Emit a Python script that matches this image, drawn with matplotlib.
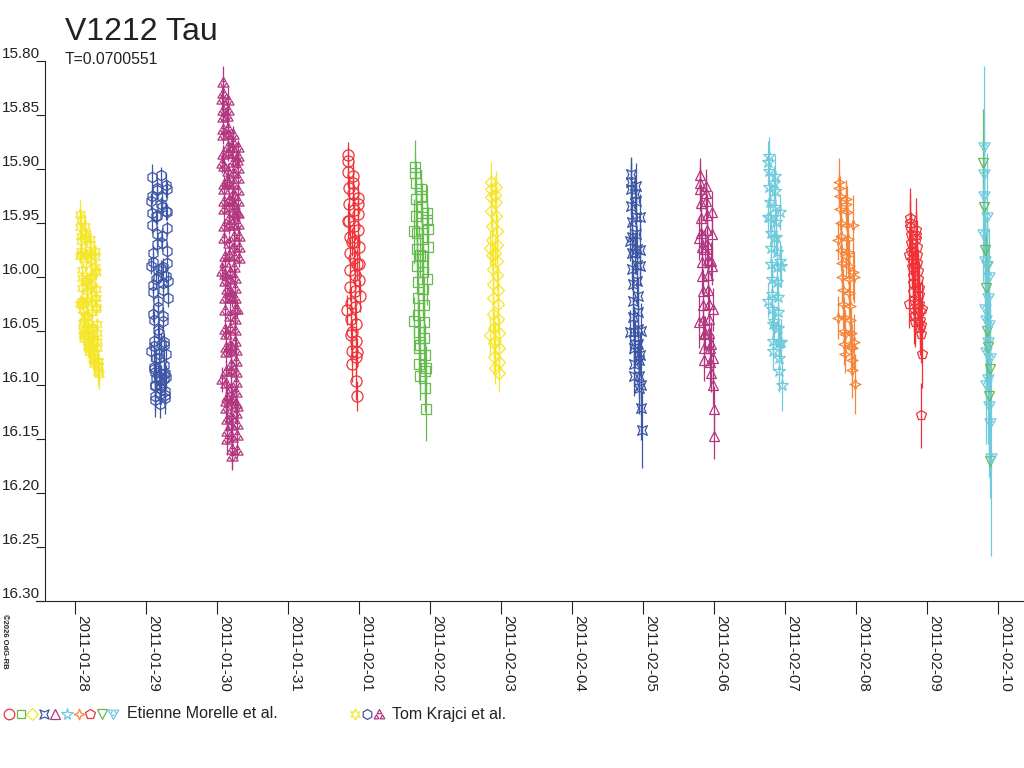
import numpy as np
import matplotlib
matplotlib.use("Agg")
import matplotlib.pyplot as plt
import matplotlib.dates as mdates
from matplotlib.path import Path
from datetime import datetime

plt.rcParams['font.family'] = ['Liberation Sans', 'DejaVu Sans']

# days after 2011-01-28 0h UT, V magnitudes and errors, one set per night

# Tom Krajci et al.
krajci_0128_day = [0.060, 0.063, 0.066, 0.069, 0.072, 0.075, 0.078, 0.081, 0.084, 0.087,
                   0.090, 0.093, 0.096, 0.099, 0.102, 0.105, 0.108, 0.111, 0.114, 0.117,
                   0.120, 0.123, 0.126, 0.129, 0.132, 0.135, 0.138, 0.141, 0.144, 0.147,
                   0.150, 0.153, 0.156, 0.159, 0.162, 0.165, 0.168, 0.171, 0.174, 0.177,
                   0.180, 0.183, 0.186, 0.189, 0.192, 0.195, 0.198, 0.201, 0.204, 0.207,
                   0.210, 0.213, 0.216, 0.219, 0.222, 0.225, 0.228, 0.231, 0.234, 0.237,
                   0.240, 0.243, 0.246, 0.249, 0.252, 0.255, 0.258, 0.261, 0.264, 0.267,
                   0.270, 0.273, 0.276, 0.279, 0.282, 0.285, 0.288, 0.291, 0.294, 0.297,
                   0.300, 0.303, 0.306, 0.309, 0.312, 0.315, 0.318, 0.321, 0.324, 0.327]
krajci_0128_mag = [16.025, 15.981, 15.954, 15.942, 15.947, 15.962, 15.967, 15.976, 15.979, 15.994,
                   16.001, 16.010, 16.022, 16.024, 16.031, 16.031, 16.043, 16.049, 16.053, 16.041,
                   16.055, 16.058, 16.051, 16.037, 16.004, 15.965, 15.953, 15.959, 15.962, 15.979,
                   15.988, 16.003, 16.005, 16.013, 16.021, 16.022, 16.036, 16.043, 16.049, 16.055,
                   16.053, 16.065, 16.059, 16.067, 16.070, 16.063, 16.048, 16.001, 15.977, 15.965,
                   15.970, 15.980, 15.984, 15.999, 16.008, 16.011, 16.024, 16.033, 16.046, 16.047,
                   16.054, 16.061, 16.066, 16.066, 16.076, 16.070, 16.078, 16.081, 16.074, 16.060,
                   16.020, 15.995, 15.976, 15.982, 15.991, 15.996, 16.011, 16.020, 16.028, 16.030,
                   16.044, 16.052, 16.059, 16.066, 16.078, 16.078, 16.083, 16.088, 16.082, 16.090]
krajci_0128_err = [0.008, 0.007, 0.010, 0.013, 0.009, 0.006, 0.006, 0.007, 0.006, 0.006,
                   0.006, 0.007, 0.006, 0.006, 0.007, 0.006, 0.008, 0.007, 0.009, 0.006,
                   0.008, 0.010, 0.007, 0.006, 0.006, 0.008, 0.011, 0.007, 0.006, 0.006,
                   0.007, 0.006, 0.006, 0.006, 0.007, 0.006, 0.006, 0.007, 0.006, 0.008,
                   0.006, 0.009, 0.007, 0.008, 0.010, 0.007, 0.006, 0.006, 0.007, 0.008,
                   0.006, 0.006, 0.007, 0.006, 0.006, 0.006, 0.007, 0.006, 0.006, 0.007,
                   0.006, 0.008, 0.006, 0.007, 0.009, 0.006, 0.008, 0.010, 0.007, 0.006,
                   0.006, 0.007, 0.006, 0.006, 0.006, 0.007, 0.006, 0.006, 0.007, 0.006,
                   0.006, 0.007, 0.008, 0.006, 0.009, 0.008, 0.010, 0.012, 0.009, 0.014]

krajci_0129_day = [1.065, 1.068, 1.071, 1.074, 1.077, 1.080, 1.083, 1.086, 1.089, 1.092,
                   1.095, 1.098, 1.101, 1.104, 1.107, 1.110, 1.113, 1.116, 1.119, 1.122,
                   1.125, 1.128, 1.131, 1.134, 1.137, 1.140, 1.143, 1.146, 1.149, 1.152,
                   1.155, 1.158, 1.161, 1.164, 1.167, 1.170, 1.173, 1.176, 1.179, 1.182,
                   1.185, 1.188, 1.191, 1.194, 1.197, 1.200, 1.203, 1.206, 1.209, 1.212,
                   1.215, 1.218, 1.221, 1.224, 1.227, 1.230, 1.233, 1.236, 1.239, 1.242,
                   1.245, 1.248, 1.251, 1.254, 1.257, 1.260, 1.263, 1.266, 1.269, 1.272,
                   1.275, 1.278, 1.281, 1.284, 1.287, 1.290, 1.293, 1.296, 1.299, 1.302]
krajci_0129_mag = [16.069, 15.990, 15.930, 15.908, 15.925, 15.941, 15.952, 15.978, 15.986, 16.008,
                   16.014, 16.034, 16.040, 16.059, 16.064, 16.083, 16.085, 16.100, 16.101, 16.088,
                   16.110, 16.114, 16.094, 16.075, 16.002, 15.944, 15.918, 15.920, 15.944, 15.960,
                   15.970, 15.994, 16.000, 16.022, 16.028, 16.049, 16.052, 16.071, 16.075, 16.092,
                   16.094, 16.108, 16.096, 16.103, 16.118, 16.100, 16.062, 15.992, 15.933, 15.906,
                   15.926, 15.935, 15.962, 15.969, 15.991, 16.006, 16.012, 16.036, 16.041, 16.060,
                   16.063, 16.082, 16.090, 16.095, 16.106, 16.089, 16.109, 16.112, 16.093, 16.071,
                   15.999, 15.939, 15.915, 15.919, 15.940, 15.955, 15.976, 15.987, 16.004, 16.020]
krajci_0129_err = [0.009, 0.007, 0.008, 0.012, 0.008, 0.007, 0.007, 0.007, 0.008, 0.007,
                   0.008, 0.008, 0.008, 0.009, 0.009, 0.010, 0.010, 0.011, 0.013, 0.010,
                   0.014, 0.016, 0.011, 0.009, 0.008, 0.007, 0.010, 0.008, 0.007, 0.007,
                   0.008, 0.007, 0.007, 0.008, 0.008, 0.009, 0.008, 0.009, 0.010, 0.010,
                   0.012, 0.011, 0.015, 0.010, 0.013, 0.018, 0.010, 0.008, 0.007, 0.008,
                   0.013, 0.009, 0.007, 0.007, 0.008, 0.007, 0.008, 0.008, 0.009, 0.008,
                   0.009, 0.010, 0.011, 0.010, 0.012, 0.010, 0.013, 0.015, 0.011, 0.009,
                   0.007, 0.008, 0.011, 0.008, 0.007, 0.007, 0.008, 0.007, 0.008, 0.008]

krajci_0130_day = [2.065, 2.067, 2.069, 2.071, 2.073, 2.075, 2.077, 2.079, 2.081, 2.083,
                   2.085, 2.087, 2.089, 2.091, 2.093, 2.095, 2.097, 2.099, 2.101, 2.103,
                   2.105, 2.107, 2.109, 2.111, 2.113, 2.115, 2.117, 2.119, 2.121, 2.123,
                   2.125, 2.127, 2.129, 2.131, 2.133, 2.135, 2.137, 2.139, 2.141, 2.143,
                   2.145, 2.147, 2.149, 2.151, 2.153, 2.155, 2.157, 2.159, 2.161, 2.163,
                   2.165, 2.167, 2.169, 2.171, 2.173, 2.175, 2.177, 2.179, 2.181, 2.183,
                   2.185, 2.187, 2.189, 2.191, 2.193, 2.195, 2.197, 2.199, 2.201, 2.203,
                   2.205, 2.207, 2.209, 2.211, 2.213, 2.215, 2.217, 2.219, 2.221, 2.223,
                   2.225, 2.227, 2.229, 2.231, 2.233, 2.235, 2.237, 2.239, 2.241, 2.243,
                   2.245, 2.247, 2.249, 2.251, 2.253, 2.255, 2.257, 2.259, 2.261, 2.263,
                   2.265, 2.267, 2.269, 2.271, 2.273, 2.275, 2.277, 2.279, 2.281, 2.283,
                   2.285, 2.287, 2.289, 2.291, 2.293, 2.295, 2.297, 2.299, 2.301, 2.303]
krajci_0130_mag = [16.095, 15.995, 15.895, 15.835, 15.820, 15.830, 15.846, 15.852, 15.863, 15.869,
                   15.886, 15.897, 15.914, 15.919, 15.930, 15.937, 15.953, 15.964, 15.981, 15.986,
                   15.997, 16.004, 16.020, 16.031, 16.048, 16.053, 16.065, 16.070, 16.087, 16.098,
                   16.115, 16.121, 16.132, 16.143, 16.150, 16.111, 16.011, 15.911, 15.851, 15.836,
                   15.846, 15.862, 15.868, 15.879, 15.885, 15.902, 15.913, 15.929, 15.935, 15.946,
                   15.952, 15.969, 15.980, 15.996, 16.002, 16.013, 16.019, 16.036, 16.047, 16.063,
                   16.069, 16.081, 16.087, 16.103, 16.114, 16.130, 16.137, 16.148, 16.159, 16.166,
                   16.112, 16.020, 15.930, 15.880, 15.868, 15.875, 15.885, 15.894, 15.904, 15.914,
                   15.923, 15.933, 15.943, 15.952, 15.962, 15.972, 15.981, 15.991, 16.001, 16.010,
                   16.020, 16.030, 16.039, 16.049, 16.059, 16.068, 16.078, 16.088, 16.097, 16.107,
                   16.117, 16.126, 16.136, 16.146, 16.160, 16.120, 16.030, 15.940, 15.892, 15.880,
                   15.888, 15.899, 15.909, 15.920, 15.930, 15.941, 15.951, 15.962, 15.972, 15.983]
krajci_0130_err = [0.012, 0.009, 0.009, 0.012, 0.015, 0.011, 0.009, 0.008, 0.008, 0.008,
                   0.008, 0.007, 0.007, 0.008, 0.007, 0.008, 0.008, 0.007, 0.008, 0.008,
                   0.008, 0.009, 0.008, 0.008, 0.009, 0.009, 0.009, 0.010, 0.010, 0.010,
                   0.011, 0.012, 0.012, 0.013, 0.015, 0.012, 0.009, 0.008, 0.010, 0.012,
                   0.010, 0.009, 0.008, 0.008, 0.008, 0.007, 0.007, 0.008, 0.007, 0.008,
                   0.008, 0.008, 0.007, 0.008, 0.008, 0.009, 0.008, 0.009, 0.009, 0.010,
                   0.010, 0.011, 0.011, 0.012, 0.013, 0.014, 0.016, 0.018, 0.020, 0.012,
                   0.009, 0.008, 0.009, 0.010, 0.008, 0.008, 0.008, 0.007, 0.007, 0.008,
                   0.008, 0.007, 0.008, 0.008, 0.008, 0.009, 0.008, 0.009, 0.009, 0.010,
                   0.009, 0.010, 0.011, 0.011, 0.012, 0.013, 0.014, 0.015, 0.016, 0.012,
                   0.010, 0.009, 0.009, 0.008, 0.008, 0.008, 0.008, 0.007, 0.008, 0.007,
                   0.008, 0.008, 0.008, 0.007, 0.008, 0.008, 0.008, 0.009, 0.008, 0.008]

# Etienne Morelle et al.
morelle_0201_day = [3.830, 3.834, 3.838, 3.842, 3.846, 3.850, 3.854, 3.858, 3.862, 3.866, 3.870,
                    3.874, 3.878, 3.882, 3.886, 3.890, 3.894, 3.898, 3.902, 3.906, 3.910, 3.914,
                    3.918, 3.922, 3.926, 3.930, 3.934, 3.938, 3.942, 3.946, 3.950, 3.954, 3.958,
                    3.962, 3.966, 3.970, 3.974, 3.978, 3.982, 3.986, 3.990, 3.994, 3.998, 4.002]
morelle_0201_mag = [16.031, 15.948, 15.893, 15.887, 15.903, 15.918, 15.933, 15.948, 15.963, 15.978, 15.994,
                    16.009, 16.024, 16.039, 16.054, 16.069, 16.081, 16.051, 15.968, 15.913, 15.907, 15.922,
                    15.938, 15.953, 15.968, 15.983, 15.998, 16.013, 16.028, 16.044, 16.059, 16.074, 16.096,
                    16.110, 16.070, 15.988, 15.933, 15.927, 15.942, 15.957, 15.972, 15.988, 16.003, 16.018]
morelle_0201_err = [0.014, 0.016, 0.013, 0.012, 0.015, 0.012, 0.014, 0.013, 0.012, 0.015, 0.014,
                    0.013, 0.015, 0.012, 0.014, 0.013, 0.016, 0.012, 0.013, 0.015, 0.014, 0.012,
                    0.013, 0.016, 0.014, 0.013, 0.015, 0.012, 0.014, 0.016, 0.013, 0.015, 0.018,
                    0.014, 0.013, 0.015, 0.012, 0.014, 0.013, 0.016, 0.012, 0.014, 0.013, 0.015]

morelle_0202_day = [4.770, 4.775, 4.780, 4.785, 4.790, 4.795, 4.800, 4.805, 4.810, 4.815,
                    4.820, 4.825, 4.830, 4.835, 4.840, 4.845, 4.850, 4.855, 4.860, 4.865,
                    4.870, 4.875, 4.880, 4.885, 4.890, 4.895, 4.900, 4.905, 4.910, 4.915,
                    4.920, 4.925, 4.930, 4.935, 4.940, 4.945, 4.950, 4.955, 4.960, 4.965]
morelle_0202_mag = [16.041, 15.958, 15.904, 15.898, 15.913, 15.928, 15.944, 15.959, 15.974, 15.990,
                    16.005, 16.020, 16.035, 16.051, 16.066, 16.081, 16.092, 16.063, 15.980, 15.925,
                    15.919, 15.935, 15.950, 15.965, 15.981, 15.996, 16.011, 16.026, 16.042, 16.057,
                    16.072, 16.087, 16.103, 16.122, 16.084, 16.002, 15.947, 15.941, 15.956, 15.972]
morelle_0202_err = [0.022, 0.030, 0.018, 0.025, 0.020, 0.028, 0.018, 0.024, 0.020, 0.026,
                    0.019, 0.022, 0.027, 0.020, 0.024, 0.018, 0.022, 0.026, 0.020, 0.024,
                    0.018, 0.022, 0.026, 0.020, 0.024, 0.019, 0.022, 0.026, 0.021, 0.024,
                    0.028, 0.025, 0.022, 0.030, 0.020, 0.024, 0.019, 0.026, 0.021, 0.023]

morelle_0203_day = [5.840, 5.844, 5.848, 5.852, 5.856, 5.860, 5.864, 5.868, 5.872, 5.876, 5.880, 5.884,
                    5.888, 5.892, 5.896, 5.900, 5.904, 5.908, 5.912, 5.916, 5.920, 5.924, 5.928, 5.932,
                    5.936, 5.940, 5.944, 5.948, 5.952, 5.956, 5.960, 5.964, 5.968, 5.972]
morelle_0203_mag = [16.054, 15.973, 15.919, 15.912, 15.926, 15.939, 15.953, 15.966, 15.980, 15.993, 16.007, 16.020,
                    16.034, 16.047, 16.061, 16.074, 16.084, 16.059, 15.978, 15.924, 15.917, 15.931, 15.944, 15.958,
                    15.971, 15.985, 15.998, 16.012, 16.025, 16.039, 16.052, 16.066, 16.079, 16.089]
morelle_0203_err = [0.018, 0.016, 0.015, 0.018, 0.014, 0.016, 0.015, 0.017, 0.014, 0.016, 0.015, 0.018,
                    0.016, 0.015, 0.014, 0.017, 0.015, 0.016, 0.014, 0.017, 0.015, 0.018, 0.016, 0.015,
                    0.014, 0.016, 0.015, 0.017, 0.016, 0.014, 0.015, 0.017, 0.016, 0.018]

morelle_0205_day = [7.810, 7.814, 7.818, 7.822, 7.826, 7.830, 7.834, 7.838, 7.842, 7.846, 7.850,
                    7.854, 7.858, 7.862, 7.866, 7.870, 7.874, 7.878, 7.882, 7.886, 7.890, 7.894,
                    7.898, 7.902, 7.906, 7.910, 7.914, 7.918, 7.922, 7.926, 7.930, 7.934, 7.938,
                    7.942, 7.946, 7.950, 7.954, 7.958, 7.962, 7.966, 7.970, 7.974]
morelle_0205_mag = [16.051, 15.967, 15.912, 15.905, 15.919, 15.934, 15.949, 15.963, 15.978, 15.993, 16.007,
                    16.022, 16.037, 16.051, 16.066, 16.081, 16.092, 16.062, 15.978, 15.923, 15.916, 15.930,
                    15.945, 15.960, 15.974, 15.989, 16.004, 16.018, 16.033, 16.048, 16.062, 16.077, 16.092,
                    16.103, 16.072, 15.990, 15.945, 15.975, 16.050, 16.100, 16.121, 16.142]
morelle_0205_err = [0.020, 0.018, 0.022, 0.016, 0.024, 0.018, 0.020, 0.017, 0.022, 0.019, 0.016,
                    0.021, 0.018, 0.024, 0.017, 0.020, 0.018, 0.022, 0.019, 0.017, 0.021, 0.018,
                    0.020, 0.022, 0.019, 0.017, 0.021, 0.018, 0.020, 0.022, 0.019, 0.017, 0.021,
                    0.024, 0.020, 0.018, 0.022, 0.024, 0.026, 0.028, 0.030, 0.035]

morelle_0206_day = [8.780, 8.785, 8.790, 8.795, 8.800, 8.805, 8.810, 8.815, 8.820, 8.825, 8.830,
                    8.835, 8.840, 8.845, 8.850, 8.855, 8.860, 8.865, 8.870, 8.875, 8.880, 8.885,
                    8.890, 8.895, 8.900, 8.905, 8.910, 8.915, 8.920, 8.925, 8.930, 8.935, 8.940,
                    8.945, 8.950, 8.955, 8.960, 8.965, 8.970, 8.975, 8.980, 8.985, 8.990, 8.995]
morelle_0206_mag = [16.042, 15.964, 15.913, 15.906, 15.919, 15.932, 15.946, 15.959, 15.972, 15.986, 15.999,
                    16.013, 16.026, 16.040, 16.053, 16.066, 16.077, 16.052, 15.974, 15.922, 15.916, 15.930,
                    15.943, 15.957, 15.970, 15.984, 15.998, 16.012, 16.025, 16.039, 16.052, 16.066, 16.079,
                    16.089, 16.062, 15.985, 15.940, 15.960, 15.990, 16.030, 16.075, 16.100, 16.122, 16.147]
morelle_0206_err = [0.024, 0.020, 0.018, 0.016, 0.020, 0.017, 0.015, 0.019, 0.016, 0.018, 0.017,
                    0.020, 0.016, 0.018, 0.015, 0.017, 0.019, 0.016, 0.018, 0.017, 0.016, 0.018,
                    0.020, 0.017, 0.022, 0.019, 0.021, 0.018, 0.016, 0.020, 0.017, 0.019, 0.022,
                    0.018, 0.020, 0.017, 0.019, 0.021, 0.018, 0.020, 0.022, 0.019, 0.021, 0.022]

morelle_0207_day = [9.750, 9.755, 9.760, 9.765, 9.770, 9.775, 9.780, 9.785, 9.790, 9.795,
                    9.800, 9.805, 9.810, 9.815, 9.820, 9.825, 9.830, 9.835, 9.840, 9.845,
                    9.850, 9.855, 9.860, 9.865, 9.870, 9.875, 9.880, 9.885, 9.890, 9.895,
                    9.900, 9.905, 9.910, 9.915, 9.920, 9.925, 9.930, 9.935, 9.940, 9.945]
morelle_0207_mag = [16.022, 15.945, 15.894, 15.888, 15.902, 15.917, 15.931, 15.945, 15.959, 15.973,
                    15.988, 16.002, 16.016, 16.030, 16.044, 16.059, 16.069, 16.041, 15.964, 15.913,
                    15.907, 15.921, 15.935, 15.949, 15.963, 15.977, 15.991, 16.005, 16.019, 16.033,
                    16.047, 16.061, 16.075, 16.087, 16.060, 15.985, 15.940, 15.990, 16.060, 16.100]
morelle_0207_err = [0.016, 0.018, 0.020, 0.017, 0.015, 0.018, 0.016, 0.014, 0.017, 0.015,
                    0.018, 0.016, 0.015, 0.019, 0.016, 0.014, 0.017, 0.015, 0.018, 0.016,
                    0.020, 0.015, 0.016, 0.014, 0.017, 0.015, 0.019, 0.016, 0.018, 0.015,
                    0.017, 0.016, 0.019, 0.020, 0.016, 0.018, 0.017, 0.019, 0.021, 0.024]

morelle_0208_day = [10.740, 10.746, 10.752, 10.758, 10.764, 10.770, 10.776, 10.782, 10.788, 10.794,
                    10.800, 10.806, 10.812, 10.818, 10.824, 10.830, 10.836, 10.842, 10.848, 10.854,
                    10.860, 10.866, 10.872, 10.878, 10.884, 10.890, 10.896, 10.902, 10.908, 10.914,
                    10.920, 10.926, 10.932, 10.938, 10.944, 10.950, 10.956, 10.962, 10.968, 10.974]
morelle_0208_mag = [16.038, 15.966, 15.918, 15.912, 15.925, 15.937, 15.950, 15.962, 15.975, 15.987,
                    16.000, 16.012, 16.025, 16.037, 16.050, 16.062, 16.071, 16.053, 15.981, 15.933,
                    15.928, 15.940, 15.952, 15.965, 15.977, 15.990, 16.002, 16.015, 16.027, 16.040,
                    16.052, 16.065, 16.077, 16.086, 16.066, 15.996, 15.952, 16.000, 16.060, 16.099]
morelle_0208_err = [0.020, 0.018, 0.016, 0.022, 0.018, 0.020, 0.024, 0.018, 0.020, 0.017,
                    0.022, 0.019, 0.021, 0.018, 0.024, 0.020, 0.018, 0.022, 0.019, 0.021,
                    0.018, 0.024, 0.022, 0.026, 0.020, 0.024, 0.019, 0.021, 0.023, 0.020,
                    0.022, 0.025, 0.024, 0.026, 0.022, 0.025, 0.028, 0.024, 0.026, 0.028]

morelle_0209_day = [11.740, 11.745, 11.750, 11.755, 11.760, 11.765, 11.770, 11.775, 11.780, 11.785,
                    11.790, 11.795, 11.800, 11.805, 11.810, 11.815, 11.820, 11.825, 11.830, 11.835,
                    11.840, 11.845, 11.850, 11.855, 11.860, 11.865, 11.870, 11.875, 11.880, 11.885,
                    11.890, 11.895, 11.900, 11.905, 11.910, 11.915, 11.920, 11.925]
morelle_0209_mag = [16.025, 15.980, 15.950, 15.946, 15.954, 15.961, 15.969, 15.976, 15.984, 15.991,
                    15.999, 16.006, 16.014, 16.021, 16.029, 16.036, 16.042, 16.036, 15.991, 15.961,
                    15.957, 15.965, 15.972, 15.980, 15.987, 15.995, 16.002, 16.010, 16.017, 16.025,
                    16.032, 16.040, 16.047, 16.053, 16.045, 16.128, 16.030, 16.071]
morelle_0209_err = [0.022, 0.025, 0.027, 0.028, 0.024, 0.021, 0.026, 0.022, 0.024, 0.020,
                    0.023, 0.025, 0.021, 0.024, 0.022, 0.026, 0.023, 0.024, 0.021, 0.022,
                    0.030, 0.023, 0.025, 0.022, 0.024, 0.021, 0.023, 0.025, 0.022, 0.024,
                    0.026, 0.023, 0.025, 0.027, 0.026, 0.030, 0.028, 0.032]

morelle_0210a_day = [12.785, 12.791, 12.796, 12.802, 12.807, 12.813, 12.818, 12.824, 12.829, 12.835,
                     12.840, 12.846, 12.851, 12.857, 12.862, 12.868, 12.873, 12.879, 12.884, 12.890]
morelle_0210a_mag = [15.960, 15.905, 15.880, 15.925, 15.985, 16.030, 16.070, 16.100, 16.040, 15.945,
                     15.990, 16.020, 16.060, 16.095, 16.120, 16.000, 16.045, 16.075, 16.135, 16.168]
morelle_0210a_err = [0.045, 0.060, 0.075, 0.050, 0.045, 0.040, 0.050, 0.055, 0.045, 0.060,
                     0.040, 0.050, 0.055, 0.060, 0.065, 0.045, 0.050, 0.055, 0.070, 0.090]

morelle_0210b_day = [12.788, 12.799, 12.810, 12.821, 12.832, 12.843, 12.854, 12.865, 12.876, 12.887]
morelle_0210b_mag = [15.895, 15.935, 15.975, 16.010, 16.050, 15.990, 16.065, 16.110, 16.085, 16.170]
morelle_0210b_err = [0.050, 0.045, 0.040, 0.050, 0.050, 0.045, 0.050, 0.060, 0.055, 0.020]

date_labels = ['2011-01-28', '2011-01-29', '2011-01-30', '2011-01-31', '2011-02-01',
               '2011-02-02', '2011-02-03', '2011-02-04', '2011-02-05', '2011-02-06',
               '2011-02-07', '2011-02-08', '2011-02-09', '2011-02-10']
mag_ticks = [15.80, 15.85, 15.90, 15.95, 16.00, 16.05, 16.10, 16.15, 16.20, 16.25, 16.30]

yellow = '#f5e62a'
blue = '#3d57a5'
purple = '#b2367f'
red = '#ee3238'
green = '#66bb4f'
cyan = '#6fcbdc'
orange = '#f5853a'
ink = '#222222'


def closed(pts):
    return Path(list(pts) + [pts[0]],
                [Path.MOVETO] + [Path.LINETO] * (len(pts) - 1) + [Path.CLOSEPOLY])


box_cross = closed([(-1, 1), (0, 0.55), (1, 1), (0.55, 0), (1, -1), (0, -0.55), (-1, -1), (-0.55, 0)])
four_star = closed([(0, 1), (0.28, 0.28), (1, 0), (0.28, -0.28), (0, -1), (-0.28, -0.28), (-1, 0), (-0.28, 0.28)])


def trefoil(flip=1):
    parts = []
    for cx, cy in [(0, 0.45), (-0.55, -0.5), (0.55, -0.5)]:
        tri = [(cx, cy + 0.45), (cx - 0.42, cy - 0.3), (cx + 0.42, cy - 0.3)]
        parts.append(closed([(x, flip * y) for x, y in tri]))
    return Path.make_compound_path(*parts)


tref_up = trefoil(1)
tref_down = trefoil(-1)
star6 = (6, 1, 0)

# (days, mags, errors, colour, marker, marker size)
krajci = [(krajci_0128_day, krajci_0128_mag, krajci_0128_err, yellow, star6, 8),
          (krajci_0129_day, krajci_0129_mag, krajci_0129_err, blue, 'h', 7.5),
          (krajci_0130_day, krajci_0130_mag, krajci_0130_err, purple, tref_up, 8)]
morelle = [(morelle_0201_day, morelle_0201_mag, morelle_0201_err, red, 'o', 8),
           (morelle_0202_day, morelle_0202_mag, morelle_0202_err, green, 's', 6.5),
           (morelle_0203_day, morelle_0203_mag, morelle_0203_err, yellow, 'D', 6),
           (morelle_0205_day, morelle_0205_mag, morelle_0205_err, blue, box_cross, 7),
           (morelle_0206_day, morelle_0206_mag, morelle_0206_err, purple, '^', 7),
           (morelle_0207_day, morelle_0207_mag, morelle_0207_err, cyan, '*', 9),
           (morelle_0208_day, morelle_0208_mag, morelle_0208_err, orange, four_star, 8),
           (morelle_0209_day, morelle_0209_mag, morelle_0209_err, red, 'p', 7.5),
           (morelle_0210b_day, morelle_0210b_mag, morelle_0210b_err, green, 'v', 7),
           (morelle_0210a_day, morelle_0210a_mag, morelle_0210a_err, cyan, tref_down, 8)]

base = mdates.date2num(datetime(2011, 1, 28))

fig = plt.figure(figsize=(10.24, 7.68), dpi=100)
ax = fig.add_axes([36 / 1024, 1 - 601 / 768, 988 / 1024, 540.3 / 768])

for day, mag, err, col, mk, size in krajci + morelle:
    ax.errorbar(base + np.array(day), mag, yerr=err, linestyle='none', marker=mk,
                ms=size, mfc='none', mec=col, mew=0.9, ecolor=col, elinewidth=0.9, capsize=0)

ax.set_xlim(base - 0.555, base + 13.36)
ax.set_ylim(16.30, 15.80)

ax.spines['top'].set_visible(False)
ax.spines['right'].set_visible(False)
ax.spines['left'].set_position(('axes', 9 / 988))
for s in ('left', 'bottom'):
    ax.spines[s].set_color(ink)
    ax.spines[s].set_linewidth(0.8)

ax.set_xticks(base + np.arange(len(date_labels)))
ax.set_xticklabels(date_labels, rotation=-90, ha='left', va='top')
ax.set_yticks(mag_ticks)
ax.set_yticklabels(['%.2f' % v for v in mag_ticks])
for lab in ax.get_yticklabels():
    lab.set_verticalalignment('bottom')

ax.tick_params(axis='x', direction='out', length=9, width=0.8, pad=1, labelsize=11,
               color=ink, labelcolor=ink)
ax.tick_params(axis='y', direction='out', length=6.5, width=0.8, pad=-3, labelsize=11,
               color=ink, labelcolor=ink)

fig.text(65 / 1024, 1 - 40 / 768, 'V1212 Tau', fontsize=23, color=ink, ha='left', va='baseline')
fig.text(65 / 1024, 1 - 64 / 768, 'T=0.0700551', fontsize=11.3, color=ink, ha='left', va='baseline')
fig.text(4 / 1024, 1 - 614 / 768, '©2026 OdG-RB', rotation=-90, fontsize=5.5,
         fontweight='bold', color=ink, ha='center', va='top')

# legend row drawn in pixel coordinates
lax = fig.add_axes([0, 0, 1, 1])
lax.set_xlim(0, 1024)
lax.set_ylim(768, 0)
lax.axis('off')
for i, entry in enumerate(morelle):
    lax.plot([9 + 11.6 * i], [714], marker=entry[4], ms=entry[5] * 0.95, mfc='none', mec=entry[3], mew=0.9)
lax.text(127, 714, 'Etienne Morelle et al.', fontsize=11.5, color=ink, ha='left', va='center')
for i, entry in enumerate(krajci):
    lax.plot([355 + 12 * i], [714], marker=entry[4], ms=entry[5] * 0.95, mfc='none', mec=entry[3], mew=0.9)
lax.text(392, 714, 'Tom Krajci et al.', fontsize=11.5, color=ink, ha='left', va='center')

fig.savefig('out.png', dpi=100)
